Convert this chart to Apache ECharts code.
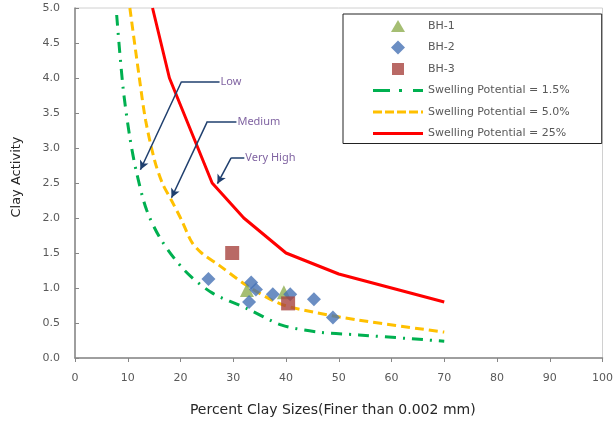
<!DOCTYPE html>
<html>
<head>
<meta charset="utf-8">
<script src="https://cdn.jsdelivr.net/npm/echarts@6/dist/echarts.min.js"></script>
<style>html,body{margin:0;padding:0;background:#fff}#c{width:616px;height:423px}</style>
</head>
<body>
<div id="c"></div>
<script>
// ---- data ----
var bh1 = [[32.6, 0.97], [39.6, 0.94]];
var bh2 = [[25.3, 1.13], [33.4, 1.08], [34.3, 0.98], [33.0, 0.80], [37.5, 0.91], [40.8, 0.91], [45.3, 0.84], [48.9, 0.58]];
var bh3 = [[29.8, 1.50], [40.4, 0.78]];
var sp15 = [[7.9, 4.9], [9.1, 3.87], [10.4, 3.15], [11.7, 2.64], [13.6, 2.11], [16.4, 1.68], [20.8, 1.25], [26.0, 0.93], [32.5, 0.71], [39.2, 0.47], [46.2, 0.37], [53.8, 0.33], [70, 0.24]];
var sp50 = [[10.4, 5.0], [12.2, 4.0], [13.4, 3.39], [15.1, 2.82], [16.6, 2.49], [18.3, 2.25], [20.2, 1.97], [22.1, 1.66], [24.0, 1.50], [27.4, 1.32], [32.5, 1.04], [38.7, 0.78], [44.9, 0.66], [53.8, 0.54], [70, 0.37]];
var sp25 = [[14.7, 5.0], [17.9, 4.0], [26, 2.5], [32, 2.0], [40, 1.5], [50, 1.2], [70, 0.8]];
var seriesNames = ['BH-1', 'BH-2', 'BH-3', 'Swelling Potential = 1.5%', 'Swelling Potential = 5.0%', 'Swelling Potential = 25%'];
// annotation callouts: [textLabel, textStart, elbow, arrowTip]
var callouts = [
  ['Low', [27.4, 3.95], [20.2, 3.95], [12.4, 2.69]],
  ['Medium', [30.6, 3.38], [25.1, 3.38], [18.3, 2.29]],
  ['Very High', [32.1, 2.86], [29.6, 2.86], [27.0, 2.49]]
];
var xTicks = {min: 0, max: 100, interval: 10};
var yTicks = {min: 0, max: 5, interval: 0.5};

var FONT = 'DejaVu Sans';
var chart = echarts.init(document.getElementById('c'), null, {renderer: 'canvas'});

var segs = [], arrows = [], labels = [];
callouts.forEach(function (c) {
  segs.push([{coord: c[1]}, {coord: c[2]}]);
  arrows.push([{coord: c[2]}, {coord: c[3]}]);
  labels.push({coord: c[1], value: c[0]});
});

// legend icons drawn inside a 50x14 box (moveTo corners fix the box)
var BOX = 'M0 0 M50 14 ';
function r(x0, x1) { return 'M' + x0 + ' 5.5 L' + x1 + ' 5.5 L' + x1 + ' 8.5 L' + x0 + ' 8.5 Z '; }
var iconTri = 'path://' + BOX + 'M25 1 L32 13 L18 13 Z';
var iconDia = 'path://' + BOX + 'M25 0 L32 7 L25 14 L18 7 Z';
var iconSq = 'path://' + BOX + 'M19 1 L31 1 L31 13 L19 13 Z';
var iconDashDot = 'path://' + BOX + r(0, 17) + r(26, 29) + r(40, 50);
var iconDash = 'path://' + BOX + r(0, 9) + r(12, 21) + r(24, 33) + r(36, 45) + r(48, 50);
var iconSolid = 'path://' + BOX + r(0, 50);

var option = {
  animation: false,
  backgroundColor: '#fff',
  textStyle: {fontFamily: FONT},
  grid: {left: 75, right: 11, top: 8, bottom: 65, show: true, borderColor: '#d0d0d0', borderWidth: 1},
  legend: {
    orient: 'vertical', left: 343, top: 14,
    padding: [5, 32, 3, 30],
    itemWidth: 50, itemHeight: 14, itemGap: 7.5,
    backgroundColor: '#fff', borderColor: '#222', borderWidth: 1,
    textStyle: {fontFamily: FONT, fontSize: 11, color: '#595959'},
    data: [
      {name: seriesNames[0], icon: iconTri},
      {name: seriesNames[1], icon: iconDia},
      {name: seriesNames[2], icon: iconSq},
      {name: seriesNames[3], icon: iconDashDot},
      {name: seriesNames[4], icon: iconDash},
      {name: seriesNames[5], icon: iconSolid}
    ]
  },
  xAxis: {
    type: 'value', min: xTicks.min, max: xTicks.max, interval: xTicks.interval,
    name: 'Percent Clay Sizes(Finer than 0.002 mm)', nameLocation: 'middle', nameGap: 45,
    nameTextStyle: {fontFamily: FONT, fontSize: 14, color: '#262626', padding: [0, 12, 0, 0]},
    axisLine: {lineStyle: {color: '#868686', width: 1.5}},
    axisTick: {show: true, inside: false, length: 4, lineStyle: {color: '#868686'}},
    axisLabel: {fontFamily: FONT, fontSize: 11, color: '#595959', margin: 15},
    splitLine: {show: false}
  },
  yAxis: {
    type: 'value', min: yTicks.min, max: yTicks.max, interval: yTicks.interval,
    name: 'Clay Activity', nameLocation: 'middle', nameGap: 52, nameRotate: 90,
    nameTextStyle: {fontFamily: FONT, fontSize: 13, color: '#262626', padding: [0, 0, 0, 12]},
    axisLine: {show: true, lineStyle: {color: '#868686', width: 1.5}},
    axisTick: {show: true, inside: true, length: 4, lineStyle: {color: '#868686'}},
    axisLabel: {fontFamily: FONT, fontSize: 11, color: '#595959', margin: 15,
      formatter: function (v) { return v.toFixed(1); }},
    splitLine: {show: false}
  },
  series: [
    {name: seriesNames[0], type: 'scatter', data: bh1, symbol: 'triangle', symbolSize: 14, z: 5,
      itemStyle: {color: '#8FAE50'}},
    {name: seriesNames[1], type: 'scatter', data: bh2, symbol: 'diamond', symbolSize: 14, z: 6,
      itemStyle: {color: '#4672B4'}},
    {name: seriesNames[2], type: 'scatter', data: bh3, symbol: 'rect', symbolSize: 14, z: 7,
      itemStyle: {color: '#A8433F'}},
    {name: seriesNames[3], type: 'line', data: sp15, smooth: 0.3, symbol: 'none', z: 3,
      itemStyle: {color: '#00B050'},
      lineStyle: {color: '#00B050', width: 3, type: [11, 7, 2, 7]}},
    {name: seriesNames[4], type: 'line', data: sp50, smooth: 0.3, symbol: 'none', z: 3,
      itemStyle: {color: '#FFC000'},
      lineStyle: {color: '#FFC000', width: 3, type: [9, 5]}},
    {name: seriesNames[5], type: 'line', data: sp25, smooth: false, symbol: 'none', z: 3,
      itemStyle: {color: '#FF0000'},
      lineStyle: {color: '#FF0000', width: 3, type: 'solid'},
      markLine: {
        silent: true, animation: false, symbol: ['none', 'none'],
        lineStyle: {color: '#1F3F6E', width: 1.5, type: 'solid'},
        label: {show: false},
        data: segs
      }
    },
    {name: 'arrows', type: 'line', data: [], symbol: 'none',
      markLine: {
        silent: true, animation: false, symbol: ['none', 'arrow'], symbolSize: [7, 9],
        lineStyle: {color: '#1F3F6E', width: 1.5, type: 'solid'},
        label: {show: false},
        data: arrows
      },
      markPoint: {
        silent: true, animation: false, symbol: 'circle', symbolSize: 0,
        label: {show: true, position: 'right', distance: 1, formatter: '{c}',
          fontFamily: 'Noto Sans', fontSize: 11, color: '#8064A2'},
        data: labels
      }
    }
  ]
};
chart.setOption(option);
</script>
</body>
</html>
